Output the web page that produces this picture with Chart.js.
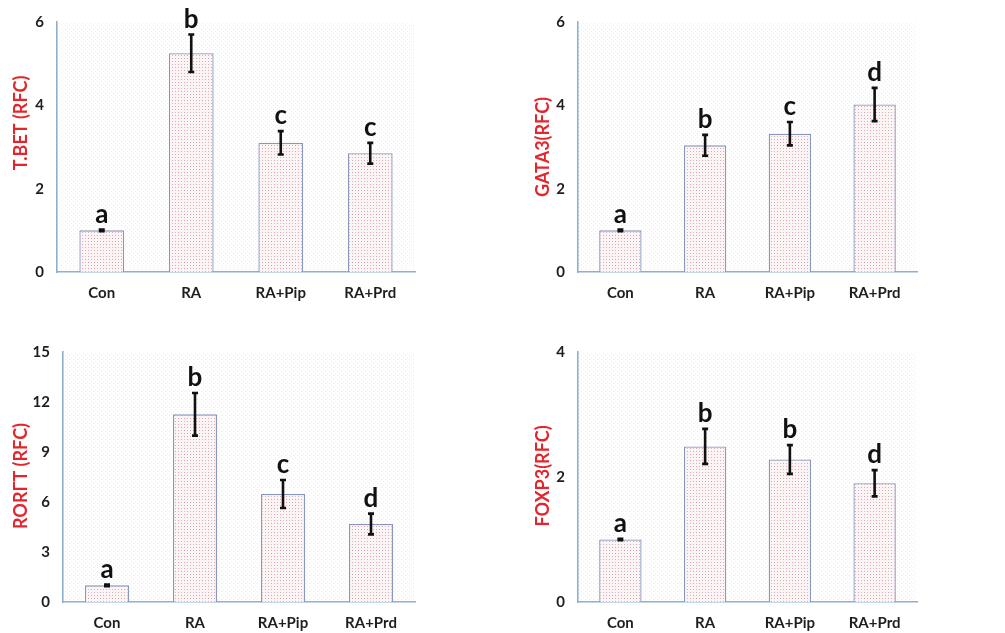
<!DOCTYPE html>
<html>
<head>
<meta charset="utf-8">
<script src="https://cdn.jsdelivr.net/npm/chart.js@4"></script>
<style>
  html, body { margin: 0; padding: 0; background: #fff; overflow: hidden; }
  .panel { position: absolute; }
</style>
</head>
<body>
<div class="panel" style="left:0px;top:0px"><canvas id="tbetChart" width="440" height="303"></canvas></div>
<div class="panel" style="left:500px;top:0px"><canvas id="gataChart" width="440" height="303"></canvas></div>
<div class="panel" style="left:0px;top:330px"><canvas id="rorChart" width="440" height="303"></canvas></div>
<div class="panel" style="left:500px;top:330px"><canvas id="foxChart" width="440" height="303"></canvas></div>

<script>
const categories = ['Con', 'RA', 'RA+Pip', 'RA+Prd'];

const tbetMeans = [1.0, 5.25, 3.10, 2.85];
const tbetErr = [0.02, 0.45, 0.28, 0.25];
const tbetLetters = ['a', 'b', 'c', 'c'];
const tbetTicks = [0, 2, 4, 6];

const gataMeans = [1.0, 3.04, 3.32, 4.02];
const gataErr = [0.02, 0.25, 0.28, 0.40];
const gataLetters = ['a', 'b', 'c', 'd'];
const gataTicks = [0, 2, 4, 6];

const rorMeans = [1.0, 11.26, 6.48, 4.68];
const rorErr = [0.05, 1.28, 0.84, 0.62];
const rorLetters = ['a', 'b', 'c', 'd'];
const rorTicks = [0, 3, 6, 9, 12, 15];

const foxMeans = [1.0, 2.49, 2.28, 1.90];
const foxErr = [0.01, 0.28, 0.23, 0.21];
const foxLetters = ['a', 'b', 'b', 'd'];
const foxTicks = [0, 2, 4];

const FONT = 'Lato, "Open Sans", sans-serif';
const RED = '#e3262c';
const AXIS = '#8db0cf';

// dotted fills like the Excel pattern
function makePattern(size, base, dots) {
    const c = document.createElement('canvas');
    c.width = size; c.height = size;
    const g = c.getContext('2d');
    g.fillStyle = base;
    g.fillRect(0, 0, size, size);
    dots.forEach(d => {
        g.fillStyle = d[2];
        g.fillRect(d[0], d[1], 1, 1);
    });
    return g.createPattern(c, 'repeat');
}

const barFill = makePattern(6, '#fbf5f5', [
    [1, 1, '#d8a6ae'], [4, 1, '#c4c0c2'], [1, 4, '#c4c0c2'], [4, 4, '#d8a6ae']
]);
const areaFill = makePattern(4, '#ffffff', [[1, 1, '#e9e9e9'], [3, 3, '#f0f0f0']]);

const annotPlugin = {
    id: 'annot',
    beforeDraw(chart) {
        const a = chart.chartArea;
        const ctx = chart.ctx;
        ctx.save();
        ctx.fillStyle = areaFill;
        ctx.fillRect(a.left, a.top, a.right - a.left, a.bottom - a.top);
        ctx.restore();
    },
    afterDatasetsDraw(chart, args, opts) {
        const ctx = chart.ctx;
        const y = chart.scales.y;
        const meta = chart.getDatasetMeta(0);
        const means = chart.data.datasets[0].data;
        ctx.save();
        meta.data.forEach((bar, i) => {
            const x = bar.x;
            const top = y.getPixelForValue(means[i] + opts.errors[i]);
            const bot = y.getPixelForValue(means[i] - opts.errors[i]);
            ctx.strokeStyle = '#111';
            ctx.lineWidth = 2.6;
            ctx.beginPath();
            ctx.moveTo(x, top); ctx.lineTo(x, bot);
            ctx.moveTo(x - 3, top); ctx.lineTo(x + 3, top);
            ctx.moveTo(x - 3, bot); ctx.lineTo(x + 3, bot);
            ctx.stroke();

            ctx.fillStyle = '#111';
            ctx.font = 'bold 26px ' + FONT;
            ctx.textAlign = 'center';
            ctx.textBaseline = 'alphabetic';
            ctx.fillText(opts.letters[i], x, top - 7);
        });

        // rotated y title
        ctx.fillStyle = RED;
        ctx.font = 'bold 18px ' + FONT;
        ctx.translate(opts.titleX, opts.titleY);
        ctx.rotate(-Math.PI / 2);
        ctx.textAlign = 'center';
        ctx.textBaseline = 'middle';
        ctx.fillText(opts.title, 0, 0);
        ctx.restore();
    }
};

function renderPanel(id, means, errors, letters, ticks, title, plotLeft, plotRight, titleX, titleY) {
    const canvas = document.getElementById(id);
    const W = canvas.width, H = canvas.height;
    const plotTop = 21, plotBottom = 272;

    new Chart(canvas.getContext('2d'), {
        type: 'bar',
        data: {
            labels: categories,
            datasets: [{
                data: means,
                backgroundColor: barFill,
                borderColor: '#8797bf',
                borderWidth: 1.3,
                barPercentage: 0.5,
                categoryPercentage: 1.0
            }]
        },
        options: {
            responsive: false,
            animation: false,
            events: [],
            layout: { padding: { left: 0, top: plotTop, right: W - plotRight, bottom: 0 } },
            plugins: {
                legend: { display: false },
                tooltip: { enabled: false },
                annot: { errors: errors, letters: letters, title: title, titleX: titleX, titleY: titleY }
            },
            scales: {
                x: {
                    grid: { display: false, drawTicks: false },
                    border: { display: true, color: AXIS, width: 1.6 },
                    ticks: { color: '#1e1e1e', font: { family: FONT, size: 15, weight: 'bold' }, padding: 12, maxRotation: 0 },
                    afterFit: s => { s.height = H - plotBottom; }
                },
                y: {
                    min: 0,
                    max: ticks[ticks.length - 1],
                    afterBuildTicks: s => { s.ticks = ticks.map(v => ({ value: v })); },
                    grid: { display: false, drawTicks: false },
                    border: { display: true, color: AXIS, width: 1.6 },
                    ticks: { color: '#1e1e1e', font: { family: FONT, size: 15, weight: 'bold' }, padding: 13 },
                    afterFit: s => { s.width = plotLeft; }
                }
            }
        },
        plugins: [annotPlugin]
    });
}

renderPanel('tbetChart', tbetMeans, tbetErr, tbetLetters, tbetTicks, 'T.BET (RFC)', 57, 415, 21, 123);
renderPanel('gataChart', gataMeans, gataErr, gataLetters, gataTicks, 'GATA3(RFC)', 78, 417, 43, 147);
renderPanel('rorChart', rorMeans, rorErr, rorLetters, rorTicks, 'RORΓT (RFC)', 63, 415, 21, 146);
renderPanel('foxChart', foxMeans, foxErr, foxLetters, foxTicks, 'FOXP3(RFC)', 78, 417, 43, 146);
</script>
</body>
</html>
